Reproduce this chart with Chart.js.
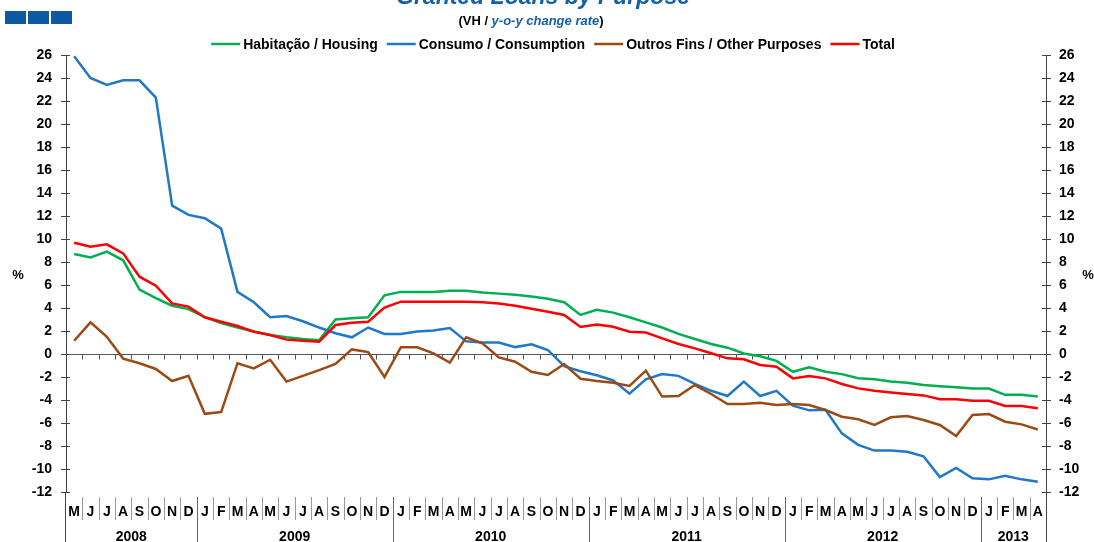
<!DOCTYPE html>
<html>
<head>
<meta charset="utf-8">
<script src="https://cdn.jsdelivr.net/npm/chart.js@4.4.0/dist/chart.umd.min.js"></script>
<style>
html,body{margin:0;padding:0;background:#fff;overflow:hidden}
#wrap{position:relative;width:1094px;height:542px;overflow:hidden;background:#fff}
#c{position:absolute;left:0;top:0}
.sq{position:absolute;top:11px;width:21px;height:13px;background:#0e5aa2}
#title{position:absolute;left:0;top:-15px;width:1086px;text-align:center;font:italic bold 23px 'Liberation Sans',Arial,sans-serif;line-height:22px;color:#1560a8;white-space:nowrap}
#sub{position:absolute;left:0;top:15px;width:1062px;text-align:center;font:bold 13px 'Liberation Sans',Arial,sans-serif;line-height:12px;color:#000;white-space:nowrap}
#sub i{color:#1560a8}
</style>
</head>
<body>
<div id="wrap">
  <div class="sq" style="left:5px"></div>
  <div class="sq" style="left:28px"></div>
  <div class="sq" style="left:51px"></div>
  <canvas id="c" width="1094" height="542"></canvas>
  <div id="title">Granted Loans by Purpose</div>
  <div id="sub">(VH / <i>y-o-y change rate</i>)</div>
</div>
<script>
// ---- data ----
const months = ['M','J','J','A','S','O','N','D',
  'J','F','M','A','M','J','J','A','S','O','N','D',
  'J','F','M','A','M','J','J','A','S','O','N','D',
  'J','F','M','A','M','J','J','A','S','O','N','D',
  'J','F','M','A','M','J','J','A','S','O','N','D',
  'J','F','M','A'];
const years = ['2008','2009','2010','2011','2012','2013'];
const yearLengths = [8,12,12,12,12,4];
const yTicks = [-12,-10,-8,-6,-4,-2,0,2,4,6,8,10,12,14,16,18,20,22,24,26];

const housing = [8.7,8.4,8.9,8.15,5.6,4.85,4.2,3.9,3.2,2.7,2.3,1.95,1.65,1.45,1.3,1.2,3.0,3.1,3.2,5.1,
  5.4,5.4,5.4,5.5,5.5,5.35,5.25,5.15,5.0,4.8,4.5,3.4,3.85,3.6,3.2,2.75,2.3,1.75,1.3,0.87,
  0.55,0.05,-0.2,-0.6,-1.55,-1.15,-1.55,-1.75,-2.1,-2.2,-2.4,-2.5,-2.7,-2.8,-2.9,-3.0,-3.0,-3.55,-3.55,-3.7];
const consumption = [25.9,24.0,23.4,23.8,23.8,22.3,12.9,12.1,11.8,10.9,5.4,4.5,3.2,3.3,2.85,2.3,1.8,1.45,2.3,1.75,
  1.75,1.95,2.05,2.25,1.1,1.0,1.0,0.6,0.85,0.35,-1.05,-1.5,-1.85,-2.3,-3.45,-2.2,-1.75,-1.9,-2.6,-3.2,
  -3.65,-2.4,-3.65,-3.2,-4.5,-4.9,-4.85,-6.9,-7.9,-8.4,-8.4,-8.5,-8.9,-10.7,-9.9,-10.8,-10.9,-10.6,-10.9,-11.1];
const otherPurposes = [1.15,2.75,1.5,-0.4,-0.8,-1.3,-2.35,-1.9,-5.2,-5.05,-0.8,-1.25,-0.5,-2.4,-1.9,-1.4,-0.87,0.4,0.17,-2.0,
  0.58,0.58,0.06,-0.75,1.45,0.93,-0.3,-0.67,-1.55,-1.83,-0.87,-2.15,-2.35,-2.5,-2.78,-1.45,-3.7,-3.65,-2.7,-3.48,
  -4.35,-4.35,-4.23,-4.43,-4.35,-4.43,-4.87,-5.45,-5.68,-6.17,-5.5,-5.39,-5.74,-6.17,-7.13,-5.3,-5.22,-5.89,-6.12,-6.56];
const total = [9.68,9.33,9.54,8.75,6.72,5.94,4.4,4.12,3.19,2.81,2.43,1.94,1.65,1.25,1.15,1.07,2.52,2.72,2.81,4.03,
  4.55,4.55,4.55,4.55,4.55,4.5,4.4,4.2,3.94,3.68,3.39,2.35,2.57,2.37,1.94,1.86,1.36,0.87,0.49,0.06,
  -0.38,-0.46,-0.96,-1.1,-2.12,-1.91,-2.12,-2.61,-2.99,-3.19,-3.35,-3.48,-3.6,-3.94,-3.94,-4.06,-4.06,-4.52,-4.52,-4.72];

const seriesLabels = ['Habitação / Housing','Consumo / Consumption','Outros Fins / Other Purposes','Total'];
const seriesColors = ['#00b050','#1f78c8','#9c4a14','#ff0000'];
const seriesData = [housing, consumption, otherPurposes, total];
const drawOrder = [3,2,1,0];

const FONT = "'Liberation Sans', Arial, sans-serif";

const decor = {
  id: 'decor',
  beforeDatasetsDraw(chart) {
    const ctx = chart.ctx, xs = chart.scales.x, ys = chart.scales.y;
    const ca = chart.chartArea;
    const y0 = Math.round(ys.getPixelForValue(0)) + 0.5;
    const step = xs.getPixelForValue(1) - xs.getPixelForValue(0);
    ctx.save();
    ctx.strokeStyle = '#555';
    ctx.lineWidth = 1;
    ctx.beginPath();
    ctx.moveTo(ca.left, y0); ctx.lineTo(ca.right, y0);
    for (let i = 1; i < months.length; i++) {
      const x = Math.round(xs.getPixelForValue(i) - step / 2) + 0.5;
      ctx.moveTo(x, y0); ctx.lineTo(x, y0 + 5);
    }
    ctx.stroke();
    ctx.strokeStyle = '#444';
    ctx.beginPath();
    yTicks.forEach(v => {
      const y = Math.round(ys.getPixelForValue(v)) + 0.5;
      ctx.moveTo(ca.left, y); ctx.lineTo(ca.left + 4, y);
      ctx.moveTo(ca.right, y); ctx.lineTo(ca.right - 4, y);
    });
    ctx.stroke();
    ctx.restore();
  },
  afterDraw(chart) {
    const ctx = chart.ctx, xs = chart.scales.x;
    const ca = chart.chartArea;
    const step = xs.getPixelForValue(1) - xs.getPixelForValue(0);
    ctx.save();
    ctx.strokeStyle = '#444'; ctx.lineWidth = 1;
    ctx.beginPath();
    ctx.moveTo(Math.round(ca.left) - 0.5, ca.bottom); ctx.lineTo(Math.round(ca.left) - 0.5, 542);
    ctx.moveTo(Math.round(ca.right) + 0.5, ca.bottom); ctx.lineTo(Math.round(ca.right) + 0.5, 542);
    ctx.stroke();
    ctx.fillStyle = '#000';
    ctx.font = 'bold 14px ' + FONT;
    ctx.textAlign = 'center';
    ctx.textBaseline = 'alphabetic';
    months.forEach((m, i) => ctx.fillText(m, xs.getPixelForValue(i), 516));
    const yearStarts = new Set();
    let acc = 0;
    yearLengths.forEach(n => { acc += n; yearStarts.add(acc); });
    for (let i = 1; i < months.length; i++) {
      const x = Math.round(xs.getPixelForValue(i) - step / 2) + 0.5;
      ctx.beginPath();
      if (yearStarts.has(i)) { ctx.strokeStyle = '#666'; ctx.moveTo(x, 497); ctx.lineTo(x, 542); }
      else { ctx.strokeStyle = '#999'; ctx.moveTo(x, 497); ctx.lineTo(x, 520); }
      ctx.stroke();
    }
    ctx.font = 'bold 14px ' + FONT;
    let start = 0;
    years.forEach((yr, k) => {
      const end = start + yearLengths[k] - 1;
      const cx = (xs.getPixelForValue(start) + xs.getPixelForValue(end)) / 2;
      ctx.fillText(yr, cx, 541);
      start += yearLengths[k];
    });
    ctx.font = 'bold 13px ' + FONT;
    ctx.fillText('%', 18, 279);
    ctx.fillText('%', 1088, 279);
    ctx.font = 'bold 14px ' + FONT;
    ctx.textAlign = 'left';
    ctx.textBaseline = 'middle';
    const lineW = 29, gap1 = 3, gap2 = 9;
    const ds = chart.data.datasets;
    const widths = ds.map(d => ctx.measureText(d.label).width);
    const totalW = widths.reduce((a, w) => a + lineW + gap1 + w, 0) + gap2 * (ds.length - 1);
    let x = 553 - totalW / 2;
    const ly = 44;
    ds.forEach((d, k) => {
      ctx.strokeStyle = d.borderColor; ctx.lineWidth = 2.5;
      ctx.beginPath(); ctx.moveTo(x, ly); ctx.lineTo(x + lineW, ly); ctx.stroke();
      ctx.fillStyle = '#000';
      ctx.fillText(d.label, x + lineW + gap1, ly + 1);
      x += lineW + gap1 + widths[k] + gap2;
    });
    ctx.restore();
  }
};

const yAxisCommon = {
  type: 'linear', min: -12, max: 26,
  afterBuildTicks: (s) => { s.ticks = yTicks.map(v => ({ value: v })); },
  grid: { drawOnChartArea: false, tickLength: 5, tickColor: '#444' },
  border: { color: '#444', width: 1 }
};

new Chart(document.getElementById('c'), {
  type: 'line',
  data: {
    labels: months.map((m, i) => m + i),
    datasets: seriesData.map((d, k) => ({
      label: seriesLabels[k],
      data: d,
      borderColor: seriesColors[k],
      backgroundColor: seriesColors[k],
      borderWidth: 2.5,
      pointRadius: 0,
      tension: 0,
      fill: false,
      order: drawOrder[k]
    }))
  },
  options: {
    responsive: false,
    animation: false,
    layout: { padding: { top: 55, bottom: 50, left: 0, right: 0 } },
    plugins: { legend: { display: false }, title: { display: false }, tooltip: { enabled: false } },
    scales: {
      x: { type: 'category', offset: true, display: false },
      y: Object.assign({}, yAxisCommon, {
        position: 'left',
        afterFit: (s) => { s.width = 66; },
        ticks: { color: '#000', padding: 9, font: { family: FONT, size: 14, weight: 'bold' } }
      }),
      y2: Object.assign({}, yAxisCommon, {
        position: 'right',
        afterFit: (s) => { s.width = 48; },
        ticks: { color: '#000', padding: 8, font: { family: FONT, size: 14, weight: 'bold' } }
      })
    }
  },
  plugins: [decor]
});
</script>
</body>
</html>
